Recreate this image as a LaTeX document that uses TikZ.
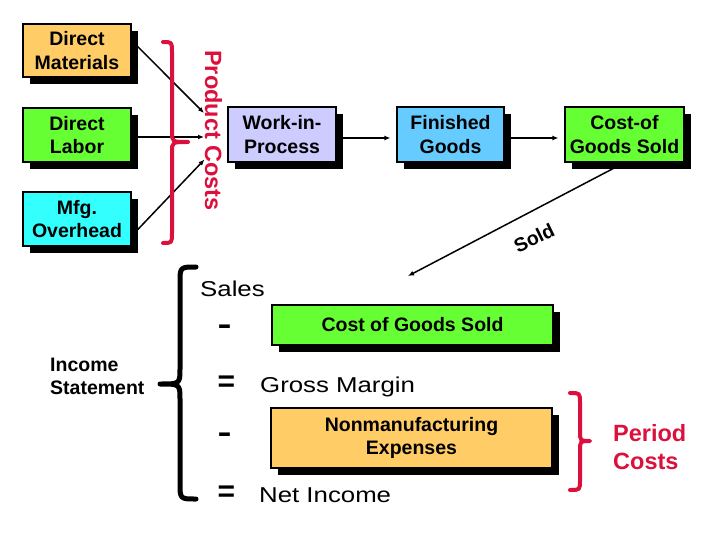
\documentclass[tikz,border=0pt]{standalone}
\usepackage{fontspec}
\setmainfont{Liberation Sans}
\newfontfamily\widesans[FakeStretch=1.2]{Liberation Sans}
\usetikzlibrary{arrows.meta,shadows}
\definecolor{cOrange}{HTML}{FFCC66}
\definecolor{cGreen}{HTML}{66FF33}
\definecolor{cCyan}{HTML}{33FFFF}
\definecolor{cLav}{HTML}{CCCCFF}
\definecolor{cBlue}{HTML}{66CCFF}
\definecolor{cRed}{RGB}{220,16,60}
\pgfdeclarelayer{bg}
\pgfsetlayers{bg,main}
\tikzset{
  boxfont/.style={font=\fontsize{19.5}{23.5}\selectfont\bfseries},
  costbox/.style={boxfont, draw=black, line width=1.2pt, inner sep=0pt, align=center,
    drop shadow={shadow xshift=6.5pt, shadow yshift=-7pt, fill=black, opacity=1}},
  flow/.style={line width=1.5pt, -{Latex[length=6pt,width=5pt]}},
  bracestyle/.style={line width=4pt, line cap=round, line join=round},
  redlabel/.style={text=cRed, font=\fontsize{23.5}{28}\selectfont\bfseries},
  stmt/.style={font=\widesans\fontsize{21.5}{24}\selectfont, inner sep=0pt},
  opsign/.style={font=\fontsize{30}{30}\selectfont\bfseries, inner sep=0pt}
}
\begin{document}
\begin{tikzpicture}[x=1pt,y=-1pt]
\useasboundingbox (0,0) rectangle (720,540);

% top row boxes
\node[costbox, fill=cOrange, minimum width=108pt, minimum height=53pt] (dm) at (77,50.5) {Direct\\Materials};
\node[costbox, fill=cGreen, minimum width=108pt, minimum height=54pt] (dl) at (77,135) {Direct\\Labor};
\node[costbox, fill=cCyan, minimum width=108pt, minimum height=54pt] (moh) at (77,219) {Mfg.\\Overhead};
\node[costbox, fill=cLav, minimum width=108pt, minimum height=55pt] (wip) at (282,134.5) {Work-in-\\Process};
\node[costbox, fill=cBlue, minimum width=107pt, minimum height=55pt] (fg) at (450.5,134.5) {Finished\\Goods};
\node[costbox, fill=cGreen, minimum width=119pt, minimum height=55pt] (cogs) at (624.5,134.5) {Cost-of\\Goods Sold};

% arrow targets
\coordinate (p1) at (204,113);
\coordinate (p2) at (204,137);
\coordinate (p3) at (204.5,159.5);
\coordinate (soldend) at (408,276);

\begin{pgfonlayer}{bg}
\draw[flow] ([yshift=10pt]dm.east) -- (p1);
\draw[flow] ([yshift=-2pt]dl.east) -- (p2);
\draw[flow] ([yshift=-17pt]moh.east) -- (p3);
\draw[flow, shorten >=6pt] ([yshift=-3.5pt]wip.east) -- ([yshift=-3.5pt]fg.west);
\draw[flow, shorten >=6pt] ([yshift=-3.5pt]fg.east) -- ([yshift=-3.5pt]cogs.west);
\draw[flow] (cogs.south) -- (soldend);
\end{pgfonlayer}

% rotated labels in a scope with an upward y axis
\begin{scope}[y=1pt]
\node[boxfont, rotate=26, inner sep=0pt] (sold) at (534,-238) {Sold};
\node[redlabel, rotate=-90, inner sep=0pt] (prod) at (213.5,-130.5) {Product Costs};
\end{scope}

% product costs brace
\draw[bracestyle, cRed] (163,42) .. controls (172,42) .. (172,52) -- (172,132)
  .. controls (172,142) .. (188,142) .. controls (172,142) .. (172,152) -- (172,233)
  .. controls (172,243) .. (163,243);

% income statement
\draw[bracestyle, line width=5pt, black] (196,267) .. controls (180,267) .. (180,283) -- (180,368)
  .. controls (180,384) .. (160,384) .. controls (180,384) .. (180,400) -- (180,483)
  .. controls (180,499) .. (196,499);
\node[boxfont, anchor=west, align=left, inner sep=0pt] (inc) at (50,376.5) {Income\\Statement};

\node[stmt, anchor=base west] (sales) at (200,296) {Sales};
\node[opsign, xscale=1.4] (m1) at (224.5,330) {-};
\node[costbox, fill=cGreen, minimum width=281pt, minimum height=40pt] (cogs2) at (412.5,325) {Cost of Goods Sold};
\node[opsign] (e1) at (226.5,384) {=};
\node[stmt, anchor=base west] (gm) at (260,392) {Gross Margin};
\node[opsign, xscale=1.4] (m2) at (224.5,438) {-};
\node[costbox, fill=cOrange, minimum width=281pt, minimum height=60pt] (nme) at (411.5,438) {Nonmanufacturing\\Expenses};
\node[opsign] (e2) at (226.5,494) {=};
\node[stmt, anchor=base west] (ni) at (259,502) {Net Income};

% period costs
\draw[bracestyle, cRed] (570,393) .. controls (580,393) .. (580,403) -- (580,431)
  .. controls (580,441) .. (590,441) .. controls (580,441) .. (580,451) -- (580,480)
  .. controls (580,490) .. (570,490);
\node[redlabel, anchor=west, align=left, inner sep=0pt] (period) at (613,447.5) {Period\\Costs};
\end{tikzpicture}
\end{document}
